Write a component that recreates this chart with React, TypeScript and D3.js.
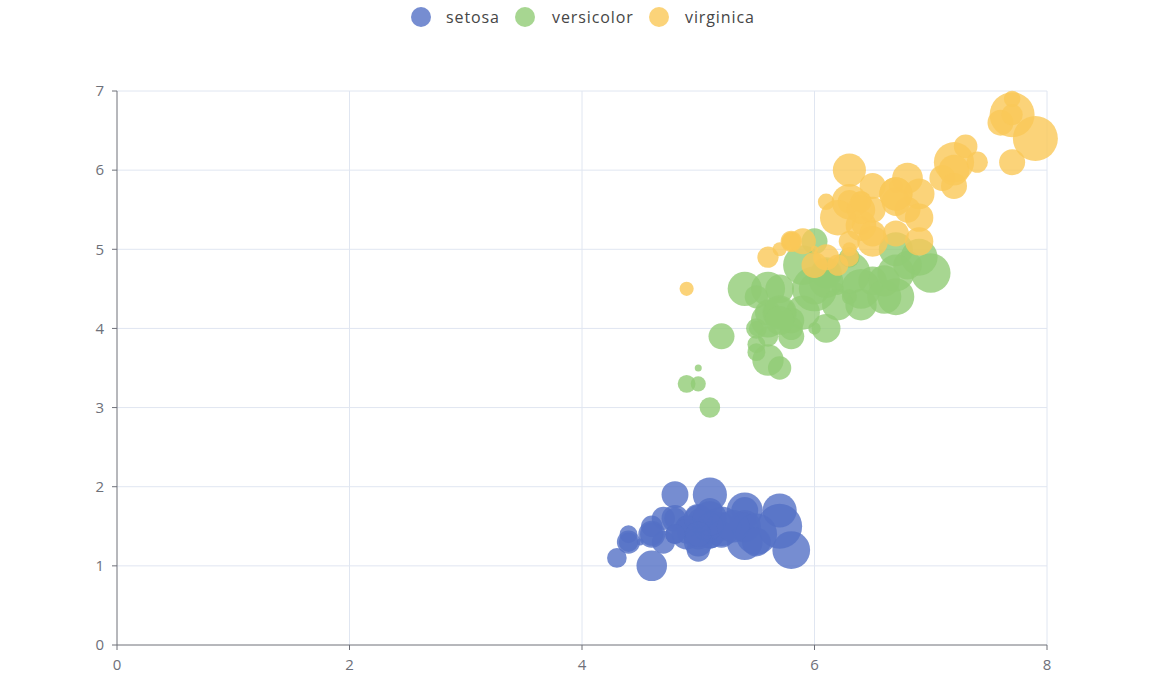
import React from "react";
import * as d3 from "d3";

// iris: [sepal length, sepal width, petal length]
const setosa: number[][] = [
  [5.1,3.5,1.4],[4.9,3.0,1.4],[4.7,3.2,1.3],[4.6,3.1,1.5],[5.0,3.6,1.4],[5.4,3.9,1.7],[4.6,3.4,1.4],[5.0,3.4,1.5],[4.4,2.9,1.4],[4.9,3.1,1.5],
  [5.4,3.7,1.5],[4.8,3.4,1.6],[4.8,3.0,1.4],[4.3,3.0,1.1],[5.8,4.0,1.2],[5.7,4.4,1.5],[5.4,3.9,1.3],[5.1,3.5,1.4],[5.7,3.8,1.7],[5.1,3.8,1.5],
  [5.4,3.4,1.7],[5.1,3.7,1.5],[4.6,3.6,1.0],[5.1,3.3,1.7],[4.8,3.4,1.9],[5.0,3.0,1.6],[5.0,3.4,1.6],[5.2,3.5,1.5],[5.2,3.4,1.4],[4.7,3.2,1.6],
  [4.8,3.1,1.6],[5.4,3.4,1.5],[5.2,4.1,1.5],[5.5,4.2,1.4],[4.9,3.1,1.5],[5.0,3.2,1.2],[5.5,3.5,1.3],[4.9,3.6,1.4],[4.4,3.0,1.3],[5.1,3.4,1.5],
  [5.0,3.5,1.3],[4.5,2.3,1.3],[4.4,3.2,1.3],[5.0,3.5,1.6],[5.1,3.8,1.9],[4.8,3.0,1.4],[5.1,3.8,1.6],[4.6,3.2,1.4],[5.3,3.7,1.5],[5.0,3.3,1.4],
];
const versicolor: number[][] = [
  [7.0,3.2,4.7],[6.4,3.2,4.5],[6.9,3.1,4.9],[5.5,2.3,4.0],[6.5,2.8,4.6],[5.7,2.8,4.5],[6.3,3.3,4.7],[4.9,2.4,3.3],[6.6,2.9,4.6],[5.2,2.7,3.9],
  [5.0,2.0,3.5],[5.9,3.0,4.2],[6.0,2.2,4.0],[6.1,2.9,4.7],[5.6,2.9,3.6],[6.7,3.1,4.4],[5.6,3.0,4.5],[5.8,2.7,4.1],[6.2,2.2,4.5],[5.6,2.5,3.9],
  [5.9,3.2,4.8],[6.1,2.8,4.0],[6.3,2.5,4.9],[6.1,2.8,4.7],[6.4,2.9,4.3],[6.6,3.0,4.4],[6.8,2.8,4.8],[6.7,3.0,5.0],[6.0,2.9,4.5],[5.7,2.6,3.5],
  [5.5,2.4,3.8],[5.5,2.4,3.7],[5.8,2.7,3.9],[6.0,2.7,5.1],[5.4,3.0,4.5],[6.0,3.4,4.5],[6.7,3.1,4.7],[6.3,2.3,4.4],[5.6,3.0,4.1],[5.5,2.5,4.0],
  [5.5,2.6,4.4],[6.1,3.0,4.6],[5.8,2.6,4.0],[5.0,2.3,3.3],[5.6,2.7,4.2],[5.7,3.0,4.2],[5.7,2.9,4.2],[6.2,2.9,4.3],[5.1,2.5,3.0],[5.7,2.8,4.1],
];
const virginica: number[][] = [
  [6.3,3.3,6.0],[5.8,2.7,5.1],[7.1,3.0,5.9],[6.3,2.9,5.6],[6.5,3.0,5.8],[7.6,3.0,6.6],[4.9,2.5,4.5],[7.3,2.9,6.3],[6.7,2.5,5.8],[7.2,3.6,6.1],
  [6.5,3.2,5.1],[6.4,2.7,5.3],[6.8,3.0,5.5],[5.7,2.5,5.0],[5.8,2.8,5.1],[6.4,3.2,5.3],[6.5,3.0,5.5],[7.7,3.8,6.7],[7.7,2.6,6.9],[6.0,2.2,5.0],
  [6.9,3.2,5.7],[5.6,2.8,4.9],[7.7,2.8,6.7],[6.3,2.7,4.9],[6.7,3.3,5.7],[7.2,3.2,6.0],[6.2,2.8,4.8],[6.1,3.0,4.9],[6.4,2.8,5.6],[7.2,3.0,5.8],
  [7.4,2.8,6.1],[7.9,3.8,6.4],[6.4,2.8,5.6],[6.3,2.8,5.1],[6.1,2.6,5.6],[7.7,3.0,6.1],[6.3,3.4,5.6],[6.4,3.1,5.5],[6.0,3.0,4.8],[6.9,3.1,5.4],
  [6.7,3.1,5.6],[6.9,3.1,5.1],[5.8,2.7,5.1],[6.8,3.2,5.9],[6.7,3.3,5.7],[6.7,3.0,5.2],[6.3,2.5,5.0],[6.5,3.0,5.2],[6.2,3.4,5.4],[5.9,3.0,5.1],
];
const seriesNames = ["setosa", "versicolor", "virginica"];
const seriesColors = ["#5470c6", "#91cc75", "#fac858"];
const xTicks = [0, 2, 4, 6, 8];
const yTicks = [0, 1, 2, 3, 4, 5, 6, 7];

const W = 1164, H = 690;
const M = { left: 117, right: 117, top: 91, bottom: 45 };
const FONT = "'Open Sans', Lato, sans-serif";

export default function App() {
  const x = d3.scaleLinear().domain([0, 8]).range([M.left, W - M.right]);
  const y = d3.scaleLinear().domain([0, 7]).range([H - M.bottom, M.top]);
  const all = [setosa, versicolor, virginica];
  const axisColor = "#6e7079";
  const gridColor = "#e0e6f1";

  const legendItems = [
    { cx: 421, tx: 446 },
    { cx: 525, tx: 552 },
    { cx: 659, tx: 685 },
  ];

  return (
    <div style={{ position: "absolute", left: 0, top: 0 }}>
      <svg width={W} height={H} style={{ display: "block", background: "#fff" }}>
        {/* grid */}
        {yTicks.filter(t => t > 0).map(t => (
          <line key={"gy" + t} x1={x(0)} x2={x(8)} y1={y(t)} y2={y(t)} stroke={gridColor} strokeWidth={1} />
        ))}
        {xTicks.filter(t => t > 0).map(t => (
          <line key={"gx" + t} x1={x(t)} x2={x(t)} y1={y(0)} y2={y(7)} stroke={gridColor} strokeWidth={1} />
        ))}
        {/* axes */}
        <line x1={x(0)} x2={x(0)} y1={y(0)} y2={y(7)} stroke={axisColor} strokeWidth={1} />
        <line x1={x(0)} x2={x(8)} y1={y(0)} y2={y(0)} stroke={axisColor} strokeWidth={1} />
        {yTicks.map(t => (
          <g key={"ty" + t}>
            <line x1={x(0) - 5} x2={x(0)} y1={y(t)} y2={y(t)} stroke={axisColor} />
            <text x={x(0) - 13} y={y(t)} dy="0.35em" textAnchor="end" fontSize={15} fill={axisColor} fontFamily={FONT}>{t}</text>
          </g>
        ))}
        {xTicks.map(t => (
          <g key={"tx" + t}>
            <line x1={x(t)} x2={x(t)} y1={y(0)} y2={y(0) + 5} stroke={axisColor} />
            <text x={x(t)} y={y(0) + 20} dy="0.35em" textAnchor="middle" fontSize={15} fill={axisColor} fontFamily={FONT}>{t}</text>
          </g>
        ))}
        {/* bubbles */}
        {all.map((data, si) => {
          const ext = d3.extent(data, d => d[1]) as [number, number];
          const size = d3.scaleLinear().domain(ext).range([7, 45]);
          return (
            <g key={"s" + si}>
              {data.map((d, i) => (
                <circle key={i} cx={x(d[0])} cy={y(d[2])} r={size(d[1]) / 2} fill={seriesColors[si]} fillOpacity={0.8} />
              ))}
            </g>
          );
        })}
        {/* legend */}
        {seriesNames.map((n, i) => (
          <g key={"l" + i}>
            <circle cx={legendItems[i].cx} cy={17} r={10} fill={seriesColors[i]} fillOpacity={0.8} />
            <text x={legendItems[i].tx} y={17} dy="0.35em" fontSize={16} letterSpacing={0.9} fill="#464646" fontFamily={FONT}>{n}</text>
          </g>
        ))}
      </svg>
    </div>
  );
}
